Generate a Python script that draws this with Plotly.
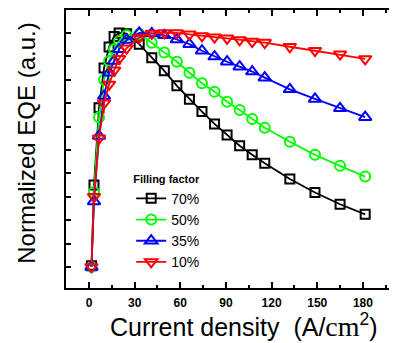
import plotly.graph_objects as go

current = [1.65, 3.3, 6.6, 9.9, 13.2, 16.5, 19.8, 24.75, 33, 41.25, 49.5, 57.75, 66,
           74.25, 82.5, 90.75, 99, 107.25, 115.5, 132, 148.5, 165, 181.5]

eqe_70 = [0.005, 0.35, 0.68, 0.85, 0.94, 0.985, 1.0, 0.997, 0.952, 0.894, 0.838, 0.774,
          0.717, 0.664, 0.611, 0.564, 0.518, 0.479, 0.443, 0.376, 0.318, 0.268, 0.225]
eqe_50 = [0.0, 0.32, 0.64, 0.80, 0.88, 0.93, 0.965, 0.99, 0.995, 0.958, 0.916, 0.877,
          0.830, 0.785, 0.749, 0.706, 0.671, 0.632, 0.595, 0.535, 0.479, 0.432, 0.386]
eqe_35 = [0.0, 0.28, 0.56, 0.73, 0.83, 0.88, 0.93, 0.97, 1.0, 0.998, 0.99, 0.972,
          0.952, 0.924, 0.899, 0.877, 0.856, 0.835, 0.809, 0.759, 0.718, 0.678, 0.640]
eqe_10 = [0.0, 0.30, 0.55, 0.70, 0.78, 0.84, 0.89, 0.935, 0.98, 0.998, 1.0, 1.0,
          0.994, 0.987, 0.982, 0.977, 0.970, 0.963, 0.959, 0.941, 0.924, 0.909, 0.889]

series_names = ["70%", "50%", "35%", "10%"]
x_tick_vals = [0, 30, 60, 90, 120, 150, 180]
x_tick_text = ["0", "30", "60", "90", "120", "150", "180"]

styles = [
    ("black", "square-open", 9),
    ("#00FF00", "circle-open", 10),
    ("#0000FF", "triangle-up-open", 11),
    ("#FF0000", "triangle-down-open", 11),
]

fig = go.Figure()
for name, ys, (col, sym, sz) in zip(series_names, [eqe_70, eqe_50, eqe_35, eqe_10], styles):
    fig.add_trace(go.Scatter(
        x=current, y=ys, name=name, mode="lines+markers",
        line=dict(color=col, width=1.8),
        marker=dict(symbol=sym, size=sz, color=col, line=dict(width=2, color=col)),
    ))

font_family = "Arial, Liberation Sans, sans-serif"
serif = "Liberation Serif, Times New Roman, serif"

x_title = ("Current density&nbsp;&nbsp;(A/"
           f"<span style='font-family:{serif}; font-size:28px'>cm</span>"
           "<sup>2</sup>)")

fig.update_layout(
    width=389, height=335,
    margin=dict(l=58, r=0, t=2, b=55),
    paper_bgcolor="white", plot_bgcolor="white",
    font=dict(family=font_family, color="black"),
    showlegend=True,
    legend=dict(
        title=dict(text="<b>Filling factor</b>", font=dict(size=11, family=font_family)),
        font=dict(size=14, family=font_family),
        x=0.197, y=0.43, xanchor="left", yanchor="top",
        bgcolor="rgba(0,0,0,0)", tracegroupgap=0,
    ),
    xaxis=dict(
        range=[-15.1, 202.4], tickvals=x_tick_vals, ticktext=x_tick_text,
        ticks="inside", ticklen=6, tickwidth=2, tickcolor="black",
        minor=dict(dtick=15, tick0=0, ticks="inside", ticklen=3, tickwidth=2, tickcolor="black"),
        showline=True, linecolor="black", linewidth=2, mirror="ticks",
        showgrid=False, zeroline=False, ticklabelstandoff=3,
        tickfont=dict(size=12, family=font_family, weight="bold"),
    ),
    yaxis=dict(
        range=[-0.09, 1.098], tick0=0, dtick=0.1,
        ticks="inside", ticklen=5, tickwidth=2, tickcolor="black",
        showticklabels=False,
        showline=True, linecolor="black", linewidth=2, mirror=False,
        showgrid=False, zeroline=False,
    ),
    annotations=[
        dict(
            text="Normalized EQE (a.u.)", textangle=-90,
            xref="paper", yref="paper", x=-0.12, y=0.52,
            xanchor="center", yanchor="middle", showarrow=False,
            font=dict(size=24, family=font_family),
        ),
        dict(
            text=x_title,
            xref="paper", yref="paper", x=0.127, y=-0.135,
            xanchor="left", yanchor="middle", showarrow=False,
            font=dict(size=25, family=font_family),
        ),
    ],
)

fig.write_html("out.html")
